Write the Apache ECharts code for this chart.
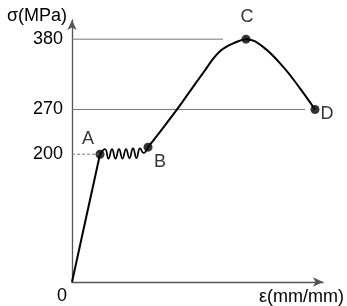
<!DOCTYPE html>
<html>
<head>
<meta charset="utf-8">
<script src="https://cdn.jsdelivr.net/npm/echarts@6/dist/echarts.min.js"></script>
<style>
html,body{margin:0;padding:0;background:#fff;}
#c{width:347px;height:306px;}
</style>
</head>
<body>
<div id="c"></div>
<script>
// Stress (MPa) vs strain (mm/mm, schematic units)
const elasticStrain = [0, 0.028];
const elasticStress = [0, 200];

const yieldStrain = [0.028, 0.033, 0.0365, 0.040, 0.0435, 0.047, 0.0505, 0.054, 0.0575, 0.061, 0.0645, 0.068, 0.0715, 0.076];
const yieldStress = [200, 208, 193, 208, 193, 208, 193, 208, 194, 209, 194, 209, 202, 211];

const hardenStrain = [0.076, 0.088, 0.105, 0.131, 0.148, 0.165, 0.174, 0.191, 0.211, 0.228, 0.243];
const hardenStress = [211, 235, 270, 327, 361, 376, 380, 368, 337, 303, 270];

const pointNames = ['A', 'B', 'C', 'D'];
const pointStrain = [0.028, 0.076, 0.174, 0.243];
const pointStress = [200, 211, 380, 270];

const refLevels = [380, 270, 200];
const refEndStrain = [0.151, 0.233, 0.028];

const yTickLabels = [200, 270, 380];

const zip = (xs, ys) => xs.map((x, i) => [x, ys[i]]);
const FONT = 'Liberation Sans, Arial, sans-serif';
const TXT = '#000';
const FS = 18;

const labelOffsets = {A: [-12, -15], B: [12, 15], C: [1, -22], D: [12, 5]};

const chart = echarts.init(document.getElementById('c'));
chart.setOption({
  animation: false,
  backgroundColor: '#fff',
  grid: {left: 72, right: 24, top: 20, bottom: 24},
  xAxis: {
    type: 'value', min: 0, max: 0.251,
    name: 'ε(mm/mm)', nameLocation: 'end', nameGap: 21,
    nameTextStyle: {fontFamily: FONT, fontSize: FS, color: TXT, align: 'right', verticalAlign: 'top', padding: [6, 0, 0, 0]},
    axisLine: {lineStyle: {color: '#555', width: 1.3}, symbol: ['none', 'arrow'], symbolSize: [7, 10]},
    axisTick: {show: false},
    splitLine: {show: false},
    axisLabel: {customValues: [0], formatter: () => '0', fontFamily: FONT, fontSize: FS, color: TXT, align: 'right', margin: 5, padding: [0, 5, 0, 0]}
  },
  yAxis: {
    type: 'value', min: 0, max: 410,
    name: 'σ(MPa)', nameLocation: 'end', nameGap: 4,
    nameTextStyle: {fontFamily: FONT, fontSize: FS, color: TXT, align: 'right', verticalAlign: 'middle', padding: [0, 5, 0, 0]},
    axisLine: {lineStyle: {color: '#555', width: 1.3}, symbol: ['none', 'arrow'], symbolSize: [7, 10]},
    axisTick: {show: false},
    splitLine: {show: false},
    axisLabel: {customValues: yTickLabels, fontFamily: FONT, fontSize: FS, color: TXT, margin: 9}
  },
  series: [
    ...refLevels.map((v, i) => ({
      type: 'line', silent: true, symbol: 'none',
      lineStyle: {color: '#777', width: 1, type: v === 200 ? [3, 2] : 'solid'},
      data: [[0, v], [refEndStrain[i], v]]
    })),
    {type: 'line', symbol: 'none', lineStyle: {color: '#000', width: 2}, data: zip(elasticStrain, elasticStress)},
    {type: 'line', symbol: 'none', smooth: 0.5, lineStyle: {color: '#000', width: 1.7}, data: zip(yieldStrain, yieldStress)},
    {type: 'line', symbol: 'none', smooth: 0.4, lineStyle: {color: '#000', width: 2}, data: zip(hardenStrain, hardenStress)},
    {
      type: 'scatter', symbolSize: 9, itemStyle: {color: '#000'},
      data: pointNames.map((n, i) => ({
        value: [pointStrain[i], pointStress[i]],
        label: {show: true, formatter: n, position: 'inside', offset: labelOffsets[n], fontFamily: FONT, fontSize: FS, color: TXT}
      }))
    }
  ]
});
</script>
</body>
</html>
